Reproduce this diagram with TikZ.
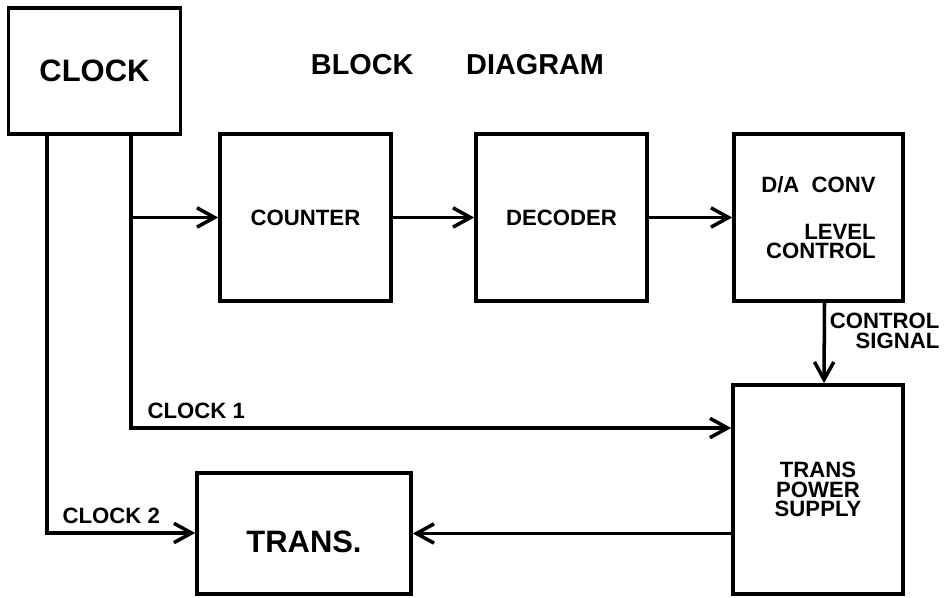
\documentclass[tikz,border=0pt]{standalone}
\usepackage{fontspec}
\setmainfont{Liberation Sans}
\usetikzlibrary{arrows.meta,calc,positioning}

\begin{document}
\begin{tikzpicture}[x=0.01cm,y=-0.01cm,>={Straight Barb[length=5pt,width=5.5pt]},
    block/.style={draw,line width=1pt,inner sep=0pt,align=center},
    small/.style={font=\fontsize{6.3}{5.6}\selectfont\bfseries,inner sep=0pt},
    big/.style={font=\fontsize{8.8}{10}\selectfont\bfseries},
    wire/.style={line width=1pt}]
      \useasboundingbox (0,0) rectangle (951,598);
      \node[font=\fontsize{8.2}{10}\selectfont\bfseries,inner sep=0pt] (title) at (457.5,65) {BLOCK\hspace{15pt}DIAGRAM};
      \node[block,big,minimum width=1.72cm,minimum height=1.26cm] (clock) at (94.5,71) {CLOCK};
      \node[block,small,minimum width=1.71cm,minimum height=1.67cm] (counter) at (305.5,217.5) {COUNTER};
      \node[block,small,minimum width=1.71cm,minimum height=1.67cm] (decoder) at (561.5,217.5) {DECODER};
      \node[block,small,align=right,minimum width=1.69cm,minimum height=1.67cm] (daconv) at (818.5,217.5) {D/A\ \ CONV\\[7.8pt]LEVEL\\CONTROL};
      \node[block,small,minimum width=1.70cm,minimum height=2.09cm] (tps) at (818,489.5) {TRANS\\POWER\\SUPPLY};
      \node[block,big,text height=11pt,text depth=0pt,minimum width=2.14cm,minimum height=1.21cm] (trans) at (304,533.5) {TRANS.};
      \coordinate (c1) at (131,428);
      \coordinate (c2) at (47,533);
      \draw[wire,->] (clock.south -| c1) |- (tps.west |- c1);
      \draw[wire,->] (c1 |- counter.west) -- (counter.west);
      \draw[wire,->] (clock.south -| c2) |- (trans.west |- c2);
      \draw[wire,->] (counter.east) -- (decoder.west);
      \draw[wire,->] (decoder.east) -- (daconv.west);
      \draw[wire,->] ([xshift=0.6mm]daconv.south) -- ([xshift=0.6mm]tps.north);
      \draw[wire,->] (tps.west |- trans.east) -- (trans.east);
      \node[small,anchor=west] (clkone) at (147,411) {CLOCK 1};
      \node[small,anchor=west] (clktwo) at (62,516) {CLOCK 2};
      \node[small,anchor=east,align=right] (ctrl) at (940,331) {CONTROL\\SIGNAL};
    \end{tikzpicture}
\end{document}
